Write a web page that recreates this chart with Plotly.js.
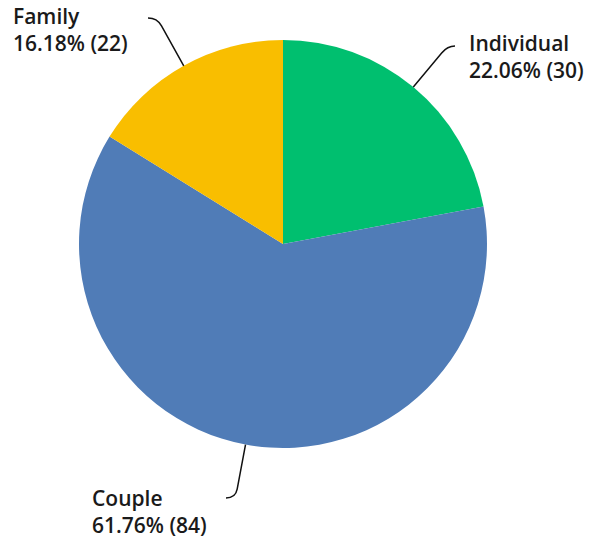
<!DOCTYPE html>
<html>
<head>
<meta charset="utf-8">
<script src="https://cdn.plot.ly/plotly-3.0.1.min.js"></script>
<style>html,body{margin:0;padding:0;background:#fff;}#chart{width:595px;height:538px;}</style>
</head>
<body>
<div id="chart"></div>
<script>
const categories = ["Individual", "Couple", "Family"];
const counts = [30, 84, 22];
const percentLabels = ["22.06%", "61.76%", "16.18%"];
const colors = ["#00BF6F", "#507CB7", "#F9BE00"];

const W = 595, H = 538;
const cx = 283, cy = 244, R = 204;
// label placement (pixels): text anchor left x, block center y, leader end point
const labelPos = [
  {tx: 467, ty: 56, ex: 455, ey: 46},
  {tx: 90, ty: 511, ex: 226, ey: 498},
  {tx: 11, ty: 30, ex: 148, ey: 18}
];

const total = counts.reduce((a, b) => a + b, 0);
const px = x => x / W;
const py = y => 1 - y / H;

const shapes = [];
const annotations = [];
let cum = 0;
counts.forEach((v, i) => {
  const mid = (cum + v / 2) / total * 2 * Math.PI;
  cum += v;
  const dx = Math.sin(mid), dy = -Math.cos(mid);
  const x0 = cx + R * dx, y0 = cy + R * dy;
  const lp = labelPos[i];
  const t = (lp.ey - y0) / dy;
  const cxp = x0 + t * dx, cyp = lp.ey; // corner
  const back = 9;
  const bx = x0 + (t - back) * dx, by = y0 + (t - back) * dy;
  const path = `M ${px(x0)},${py(y0)} L ${px(bx)},${py(by)} Q ${px(cxp)},${py(cyp)} ${px(lp.ex)},${py(lp.ey)}`;
  shapes.push({type: "path", xref: "paper", yref: "paper", path: path, line: {color: "#111", width: 1.5}});
  annotations.push({
    xref: "paper", yref: "paper", x: px(lp.tx), y: py(lp.ty),
    xanchor: "left", yanchor: "middle", align: "left", showarrow: false,
    text: categories[i] + "<br>" + percentLabels[i] + " (" + v + ")",
    font: {family: "'Open Sans', Roboto, sans-serif", size: 21, color: "#1a1a1a", weight: 600}
  });
});

const data = [{
  type: "pie",
  labels: categories,
  values: counts,
  sort: false,
  direction: "clockwise",
  rotation: 0,
  marker: {colors: colors, line: {width: 0}},
  textinfo: "none",
  hoverinfo: "skip",
  showlegend: false,
  domain: {x: [px(cx - R), px(cx + R)], y: [py(cy + R), py(cy - R)]}
}];

const layout = {
  width: W, height: H,
  margin: {l: 0, r: 0, t: 0, b: 0},
  paper_bgcolor: "#fff",
  shapes: shapes,
  annotations: annotations,
  showlegend: false
};

Plotly.newPlot("chart", data, layout, {displayModeBar: false, staticPlot: true});
</script>
</body>
</html>
